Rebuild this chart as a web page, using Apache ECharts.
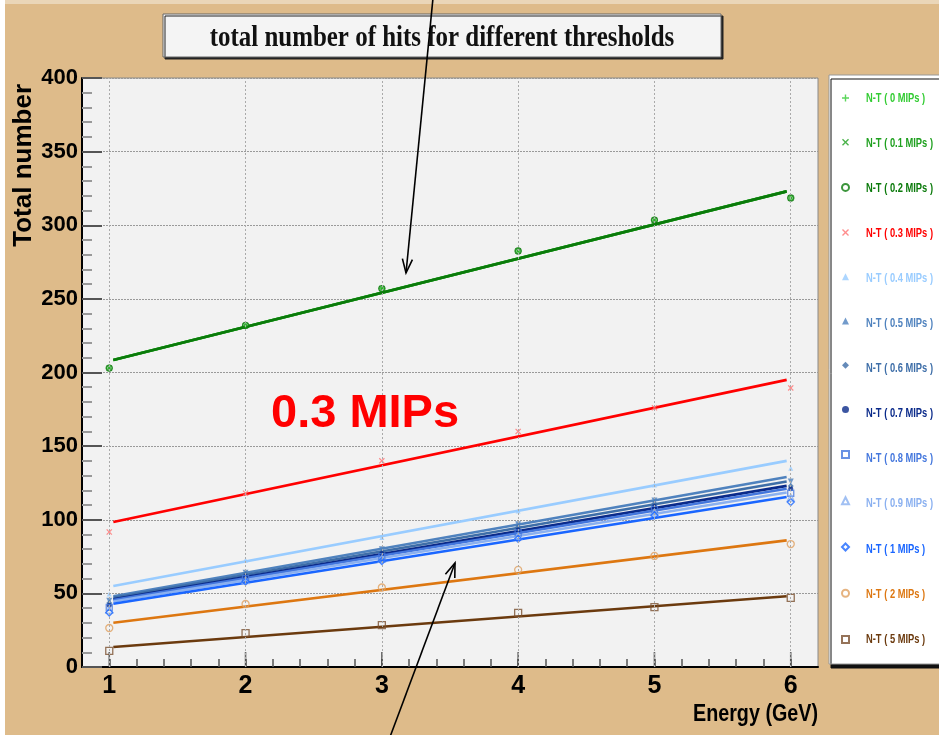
<!DOCTYPE html>
<html>
<head>
<meta charset="utf-8">
<script src="https://cdn.jsdelivr.net/npm/echarts@6/dist/echarts.min.js"></script>
<style>
html,body{margin:0;padding:0;background:#DEBB8A;}
#chart{width:939px;height:735px;}
</style>
</head>
<body>
<div id="chart"></div>
<script>
// ---------------- data ----------------
const energies = [1, 2, 3, 4, 5, 6];
const xTickValues = [1, 2, 3, 4, 5, 6];
const seriesNames = ['N-T ( 0 MIPs )', 'N-T ( 0.1 MIPs )', 'N-T ( 0.2 MIPs )', 'N-T ( 0.3 MIPs )',
  'N-T ( 0.4 MIPs )', 'N-T ( 0.5 MIPs )', 'N-T ( 0.6 MIPs )', 'N-T ( 0.7 MIPs )',
  'N-T ( 0.8 MIPs )', 'N-T ( 0.9 MIPs )', 'N-T ( 1 MIPs )', 'N-T ( 2 MIPs )', 'N-T ( 5 MIPs )'];

const hits00 = [203, 232, 257, 282.5, 303.5, 318.5];
const hits01 = [203, 232, 257, 282.5, 303.5, 318.5];
const hits02 = [203, 232, 257, 282.5, 303.5, 318.5];
const hits03 = [91.7, 118, 140, 160, 176, 189.5];
const hits04 = [49.6, 72.7, 88, 106, 123.6, 135];
const hits05 = [45, 64, 80, 97, 113, 126];
const hits06 = [43.5, 63, 78, 95, 111, 123];
const hits07 = [42, 61.5, 77, 93, 109, 121];
const hits08 = [40.5, 60, 75, 91, 107, 118];
const hits09 = [39, 59, 73.5, 89, 105, 115];
const hits10 = [37, 58, 72, 87, 103, 112];
const hits20 = [26.5, 42.8, 54, 66, 75.4, 83.5];
const hits50 = [10.9, 23, 28.5, 36.7, 40.7, 46.9];

// linear fit lines: value at fitX[0] and fitX[1]
const fitX = [1.03, 5.97];
const fitStart = [208.5, 208.5, 208.5, 98.5, 55, 48, 47, 46, 45.5, 44.5, 43, 30, 13.6];
const fitEnd   = [323, 323, 323, 195, 140, 129, 126, 123, 121, 118.5, 115.5, 86, 48];

// ---------------- fonts ----------------
const sansFam = "'Liberation Sans', Arial, sans-serif";
const ctx = document.createElement('canvas').getContext('2d');
function textW(txt, font) {
  ctx.font = font;
  return ctx.measureText(txt).width;
}
const legendFontCss = 'bold 13px ' + sansFam;
const legendScale = 67 / textW('N-T ( 0.1 MIPs )', legendFontCss);
const xTitleScale = 125 / textW('Energy (GeV)', 'bold 24px ' + sansFam);

// ---------------- styles ----------------
const allHits = [hits00, hits01, hits02, hits03, hits04, hits05, hits06, hits07, hits08, hits09, hits10, hits20, hits50];
const colors = ['#33CC33', '#1FA01F', '#0B7A0B', '#FF0000', '#99CCFF', '#4F82BE', '#3E6EA8',
  '#0A2A8A', '#4477DD', '#8AB0F0', '#1A66FF', '#DD7711', '#6B3A0E'];
const markerColors = ['#33CC33', '#1FA01F', '#0B7A0B', '#FF7070', '#99CCFF', '#4F82BE', '#3E6EA8',
  '#0A2A8A', '#4477DD', '#8AB0F0', '#1A66FF', '#E0A060', '#7A5030'];
const plusPath = 'path://M4,0h2v4h4v2h-4v4h-2v-4h-4v-2h4z';
const crossPath = 'path://M0,1.4L1.4,0L5,3.6L8.6,0L10,1.4L6.4,5L10,8.6L8.6,10L5,6.4L1.4,10L0,8.6L3.6,5z';
const markers = [
  {symbol: plusPath, size: 7, rot: 0, hollow: false},
  {symbol: crossPath, size: 6, rot: 0, hollow: false},
  {symbol: 'circle', size: 6, rot: 0, hollow: true},
  {symbol: crossPath, size: 6, rot: 0, hollow: false},
  {symbol: 'triangle', size: 5, rot: 0, hollow: false},
  {symbol: 'triangle', size: 6, rot: 180, hollow: false},
  {symbol: 'diamond', size: 6, rot: 0, hollow: false},
  {symbol: 'circle', size: 5, rot: 0, hollow: false},
  {symbol: 'rect', size: 6, rot: 0, hollow: true},
  {symbol: 'triangle', size: 7, rot: 0, hollow: true},
  {symbol: 'diamond', size: 7, rot: 0, hollow: true},
  {symbol: 'circle', size: 7, rot: 0, hollow: true},
  {symbol: 'rect', size: 7, rot: 0, hollow: true}
];

const series = [];
seriesNames.forEach(function (name, i) {
  const m = markers[i];
  series.push({
    name: name,
    type: 'scatter',
    z: 4,
    symbol: m.symbol,
    symbolSize: m.size,
    symbolRotate: m.rot,
    itemStyle: m.hollow
      ? {color: 'rgba(255,255,255,0)', borderColor: markerColors[i], borderWidth: 1.3}
      : {color: markerColors[i]},
    data: energies.map(function (e, k) { return [e, allHits[i][k]]; })
  });
});
seriesNames.forEach(function (name, i) {
  series.push({
    name: name,
    type: 'line',
    z: 3,
    showSymbol: false,
    symbol: 'none',
    silent: true,
    lineStyle: {color: colors[i], width: 2.6},
    itemStyle: {color: colors[i]},
    data: [[fitX[0], fitStart[i]], [fitX[1], fitEnd[i]]]
  });
});
// integer major ticks + vertical dotted grid lines
series.push({
  name: 'majorTicks',
  type: 'scatter',
  silent: true,
  z: 2,
  symbol: 'rect',
  symbolSize: [1.6, 15],
  symbolOffset: [0, -7.5],
  itemStyle: {color: '#444'},
  data: xTickValues.map(function (v) { return [v, 0]; }),
  markLine: {
    silent: true,
    symbol: ['none', 'none'],
    label: {show: false},
    lineStyle: {color: '#AAAAAA', type: [2, 2], width: 1},
    data: xTickValues.map(function (v) { return {xAxis: v}; })
  }
});

// legend labels (condensed text, drawn beside the legend icons)
const legendLabels = seriesNames.map(function (n, i) {
  return {type: 'text', z: 10, silent: true, x: 866, y: 98 + 45.1 * i, scaleX: legendScale,
    style: {text: n, fill: colors[i], font: legendFontCss, align: 'left', verticalAlign: 'middle'}};
});

const chart = echarts.init(document.getElementById('chart'), null, {renderer: 'canvas'});
chart.setOption({
  backgroundColor: '#DEBB8A',
  animation: false,
  grid: {
    left: 82, right: 121, top: 78, bottom: 68,
    show: true, backgroundColor: '#F2F2F2', borderColor: '#8A8A8A', borderWidth: 1
  },
  legend: {
    data: seriesNames,
    orient: 'vertical',
    left: 841,
    top: 94.5,
    padding: 0,
    itemWidth: 7,
    itemHeight: 7,
    itemGap: 37.2,
    selectedMode: false,
    formatter: function () { return ''; },
    textStyle: {fontSize: 1, lineHeight: 1}
  },
  xAxis: {
    type: 'value',
    min: 0.8, max: 6.2, interval: 0.2,
    axisLine: {show: true, onZero: false, lineStyle: {color: '#000', width: 2}},
    axisTick: {show: true, inside: true, length: 8, lineStyle: {color: '#555', width: 1.5}},
    splitLine: {show: false},
    axisLabel: {
      margin: 7,
      color: '#000',
      fontFamily: sansFam, fontWeight: 'bold', fontSize: 25,
      showMinLabel: false, showMaxLabel: false,
      formatter: function (v) {
        return Math.abs(v - Math.round(v)) < 1e-6 ? String(Math.round(v)) : '';
      }
    }
  },
  yAxis: {
    type: 'value',
    min: 0, max: 400, interval: 50,
    axisLine: {show: true, onZero: false, lineStyle: {color: '#000', width: 2}},
    axisTick: {show: true, inside: true, length: 20, lineStyle: {color: '#555', width: 2}},
    minorTick: {show: true, splitNumber: 5, length: 10, lineStyle: {color: '#999', width: 2}},
    splitLine: {show: true, lineStyle: {color: '#9A9A9A', type: [2, 1], width: 1}},
    axisLabel: {
      margin: 4,
      color: '#000',
      fontFamily: sansFam, fontWeight: 'bold', fontSize: 22,
      padding: [9, 0, 0, 0]
    }
  },
  graphic: [
    {type: 'rect', z: 0, silent: true, shape: {x: 0, y: 0, width: 5, height: 735}, style: {fill: '#FFFFFF'}},
    {type: 'rect', z: 0, silent: true, shape: {x: 5, y: 0, width: 934, height: 4}, style: {fill: '#EAD6B8'}},
    // title box
    {type: 'rect', z: 10, silent: true, shape: {x: 163, y: 14, width: 558, height: 43},
      style: {fill: '#F4F4F4', stroke: '#666', lineWidth: 1, shadowColor: '#222', shadowOffsetX: 2, shadowOffsetY: 2, shadowBlur: 0}},
    {type: 'text', z: 11, silent: true, x: 442, y: 38, scaleX: 0.86, scaleY: 1.05,
      style: {text: 'total number of hits for different thresholds', fill: '#111',
        font: "bold 29px 'Liberation Serif', 'DejaVu Serif', serif", align: 'center', verticalAlign: 'middle'}},
    // legend box
    {type: 'rect', z: -1, silent: true, shape: {x: 829, y: 75, width: 115, height: 589},
      style: {fill: '#FFFFFF', stroke: '#999', lineWidth: 1, shadowColor: '#111', shadowOffsetX: 2, shadowOffsetY: 4, shadowBlur: 0}},
    // y axis title
    {type: 'text', z: 10, silent: true, x: 24, y: 84, rotation: Math.PI / 2,
      style: {text: 'Total number', fill: '#000', font: "bold 26px " + sansFam,
        align: 'right', verticalAlign: 'middle'}},
    // x axis title
    {type: 'text', z: 10, silent: true, x: 818, y: 714, scaleX: xTitleScale,
      style: {text: 'Energy (GeV)', fill: '#000', font: "bold 24px " + sansFam,
        align: 'right', verticalAlign: 'middle'}},
    // annotation
    {type: 'text', z: 10, silent: true, x: 271, y: 414,
      style: {text: '0.3 MIPs', fill: '#FF0000', font: "bold 47px " + sansFam,
        align: 'left', verticalAlign: 'middle'}},
    // arrows
    {type: 'polyline', z: 12, silent: true, shape: {points: [[433, -2], [406, 273]]},
      style: {stroke: '#000', lineWidth: 1.6, fill: null}},
    {type: 'polyline', z: 12, silent: true, shape: {points: [[412.4, 259.6], [406, 273], [402.4, 258.6]]},
      style: {stroke: '#000', lineWidth: 1.6, fill: null}},
    {type: 'polyline', z: 12, silent: true, shape: {points: [[390, 737], [455, 563]]},
      style: {stroke: '#000', lineWidth: 1.6, fill: null}},
    {type: 'polyline', z: 12, silent: true, shape: {points: [[454.8, 577.9], [455, 563], [445.4, 574.3]]},
      style: {stroke: '#000', lineWidth: 1.6, fill: null}}
  ].concat(legendLabels),
  series: series
});
</script>
</body>
</html>
